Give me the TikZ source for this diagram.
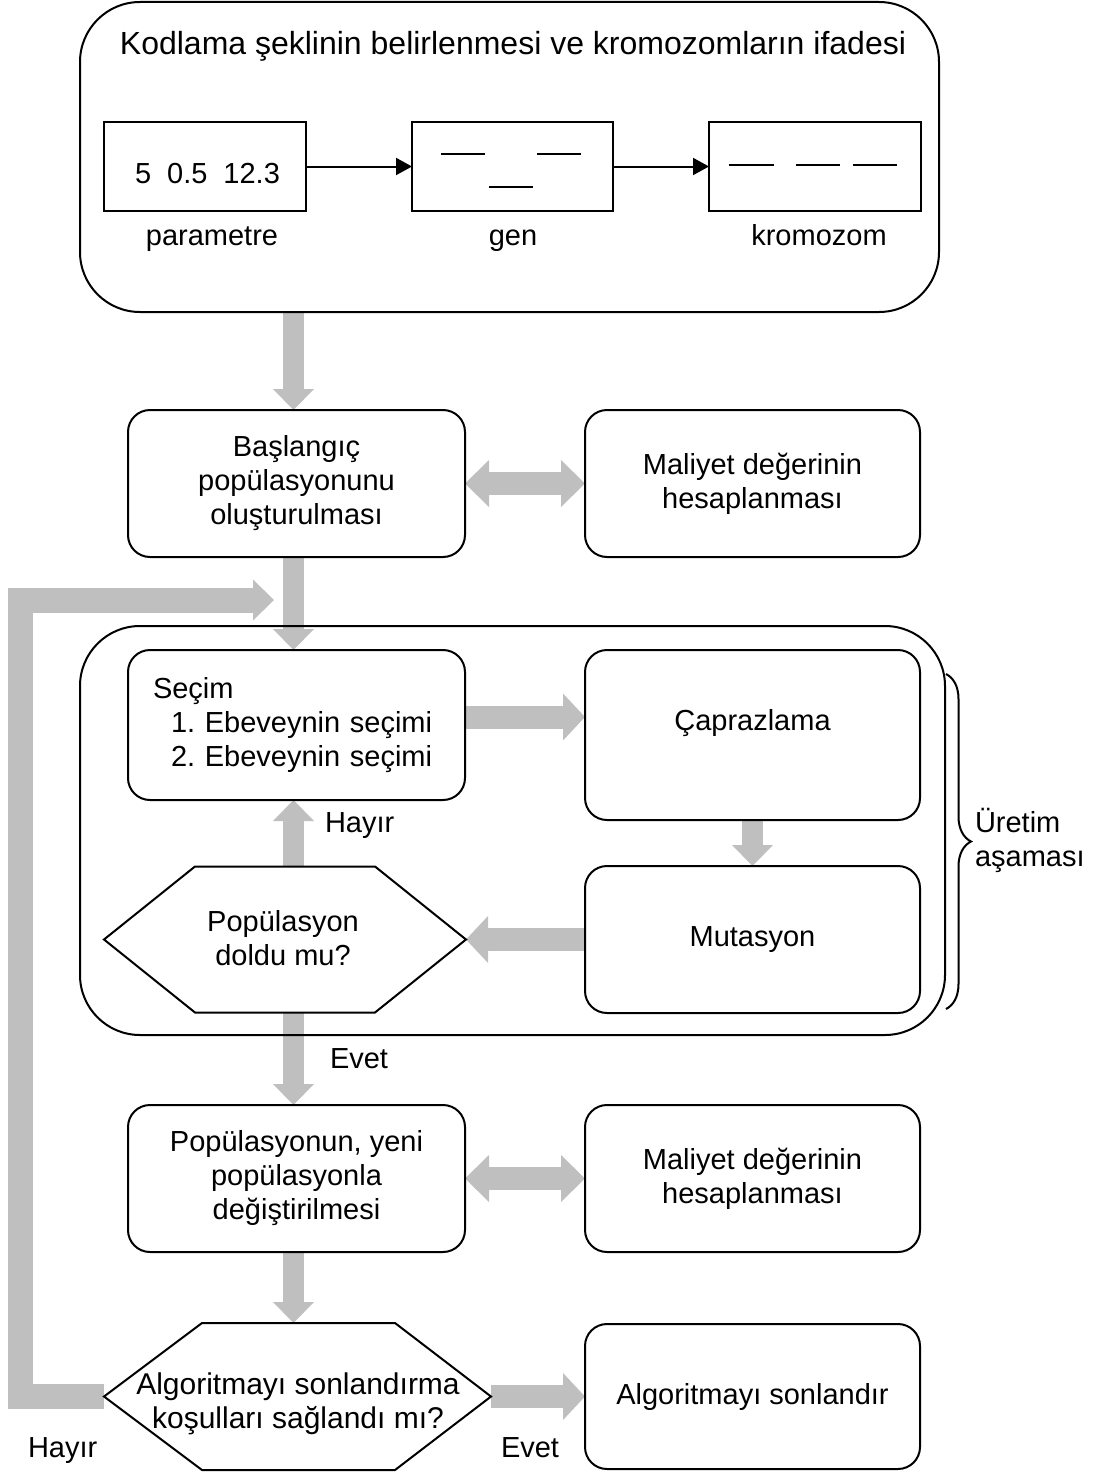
\documentclass[tikz,border=0pt]{standalone}
\usepackage{fontspec}
\setmainfont{Liberation Sans}
\usetikzlibrary{arrows.meta,decorations.pathreplacing,calc,backgrounds}
\definecolor{arrgray}{RGB}{191,191,191}
\frenchspacing
\begin{document}
\frenchspacing
\begin{tikzpicture}[x=1pt,y=-1pt,
  every node/.style={font=\fontsize{29}{34}\selectfont, inner sep=0pt, outer sep=0pt, align=center},
  lw/.style={line width=2pt},
  rbox/.style={draw, line width=2pt, rounded corners=22pt, minimum width=337pt, minimum height=147pt},
  sbox/.style={draw, line width=2pt},
  bigbox/.style={draw, line width=2pt, rounded corners=60pt},
  txt/.style={anchor=base},
  garrow/.style={draw=arrgray, line width=21pt, -{Triangle[width=41pt,length=21pt,line width=0pt]}},
  harrow/.style={draw=arrgray, line width=23pt, -{Triangle[width=47pt,length=22pt,line width=0pt]}},
  darrow/.style={draw=arrgray, line width=23pt, {Triangle[width=47pt,length=24pt,line width=0pt]}-{Triangle[width=47pt,length=24pt,line width=0pt]}},
  fbarrow/.style={draw=arrgray, line width=25pt, line join=miter, -{Triangle[width=41pt,length=21pt,line width=0pt]}},
  barrow/.style={line width=2pt, -{Triangle[width=17pt,length=16pt]}},
]
\useasboundingbox (0,0) rectangle (1103,1472);

% top section
\node[bigbox, minimum width=859pt, minimum height=310pt] (top) at (509.5,157) {};
\node[txt, font=\fontsize{32}{36}\selectfont] (title) at (513,55) {Kodlama şeklinin belirlenmesi ve kromozomların ifadesi};
\node[sbox, minimum width=202pt, minimum height=89pt] (par) at (205,166.5) {};
\node[sbox, minimum width=201pt, minimum height=89pt] (gen) at (512.5,166.5) {};
\node[sbox, minimum width=212pt, minimum height=89pt] (kro) at (815,166.5) {};
\node[txt] (parval) at (207.5,183) {5\hspace{0.55em}0.5\hspace{0.55em}12.3};
\node[txt] (parlab) at (212,245) {parametre};
\node[txt] (genlab) at (513,245) {gen};
\node[txt] (krolab) at (819,245) {kromozom};
\draw[barrow] (par) -- (gen);
\draw[barrow] (gen) -- (kro);
\draw[lw] (441,154) -- (485,154) (537,154) -- (581,154) (489,187) -- (533,187);
\draw[lw] (729,165) -- (774,165) (796,165) -- (840,165) (853,165) -- (897,165);

% initial population
\node[rbox] (bas) at (296.5,483.5) {Başlangıç\\popülasyonunu\\oluşturulması};
\node[rbox, minimum width=335pt] (mal1) at (752.5,483.5) {Maliyet değerinin\\hesaplanması};

% reproduction stage
\node[bigbox, minimum width=865pt, minimum height=409pt] (mid) at (512.5,830.5) {};
\node[rbox, minimum height=150pt, text width=287pt, align=left, inner xsep=25pt] (sec) at (296.5,725)
  {Seçim\\\hspace*{18pt}1. Ebeveynin seçimi\\\hspace*{18pt}2. Ebeveynin seçimi};
\node[rbox, minimum width=335pt, minimum height=170pt, text height=21pt, text depth=31pt] (cap) at (752.5,735) {Çaprazlama};
\node[rbox, minimum width=335pt] (mut) at (752.5,939.5) {Mutasyon};
\node[minimum width=180pt, minimum height=146pt] (hex1) at (285,939.5) {};
\coordinate (hex1l) at (104,939.5);
\coordinate (hex1r) at (466,939.5);
\draw[lw] (hex1.north west) -- (hex1.north east) -- (hex1r) -- (hex1.south east) -- (hex1.south west) -- (hex1l) -- cycle;
\node (hex1t) at (283,938.5) {Popülasyon\\doldu mu?};
\coordinate (brt) at (946,674);
\coordinate (brb) at (946,1009);
\draw[lw, decorate, decoration={brace, amplitude=25pt}] (brt) -- (brb);
\node[anchor=west, align=left] (uret) at (975,840) {Üretim\\aşaması};
\node[anchor=base west] (hay1) at (325,832) {Hayır};
\node[anchor=base west] (evet1) at (330,1068) {Evet};

% replacement
\node[rbox] (pop) at (296.5,1178.5) {Popülasyonun, yeni\\popülasyonla\\değiştirilmesi};
\node[rbox, minimum width=335pt] (mal2) at (752.5,1178.5) {Maliyet değerinin\\hesaplanması};

% termination
\node[minimum width=193pt, minimum height=147pt] (hex2) at (298.5,1396.5) {};
\coordinate (hex2l) at (104,1396.5);
\coordinate (hex2r) at (491,1396.5);
\draw[lw] (hex2.north west) -- (hex2.north east) -- (hex2r) -- (hex2.south east) -- (hex2.south west) -- (hex2l) -- cycle;
\node[font=\fontsize{30}{34}\selectfont] (hex2t) at (298,1404) {Algoritmayı sonlandırma\\koşulları sağlandı mı?};
\node[rbox, minimum width=335pt, minimum height=145pt] (alg) at (752.5,1396.5) {Algoritmayı sonlandır};
\node[anchor=base west] (hay2) at (28,1457) {Hayır};
\node[anchor=base west] (evet2) at (501,1457) {Evet};

% gray block arrows
\coordinate (ax) at (293.5,0);
\coordinate (sy) at (0,717);
\coordinate (fbc) at (20.5,600);
\coordinate (fbt) at (274,600);
\begin{pgfonlayer}{background}
\draw[garrow] (top.south -| ax) -- (bas.north -| ax);
\draw[darrow] (bas.east) -- (mal1.west);
\draw[garrow] (bas.south -| ax) -- (sec.north -| ax);
\draw[harrow] (sec.east |- sy) -- (cap.west |- sy);
\draw[garrow] (cap.south) -- (mut.north);
\draw[harrow] (mut.west) -- (hex1r);
\draw[garrow] (hex1.north -| ax) -- (sec.south -| ax);
\draw[garrow] (hex1.south -| ax) -- (pop.north -| ax);
\draw[darrow] (pop.east) -- (mal2.west);
\draw[garrow] (pop.south -| ax) -- (hex2.north -| ax);
\draw[harrow] (hex2r) -- (alg.west);
\draw[fbarrow] (hex2l) -| (fbc) -- (fbt);
\end{pgfonlayer}
\end{tikzpicture}
\end{document}
